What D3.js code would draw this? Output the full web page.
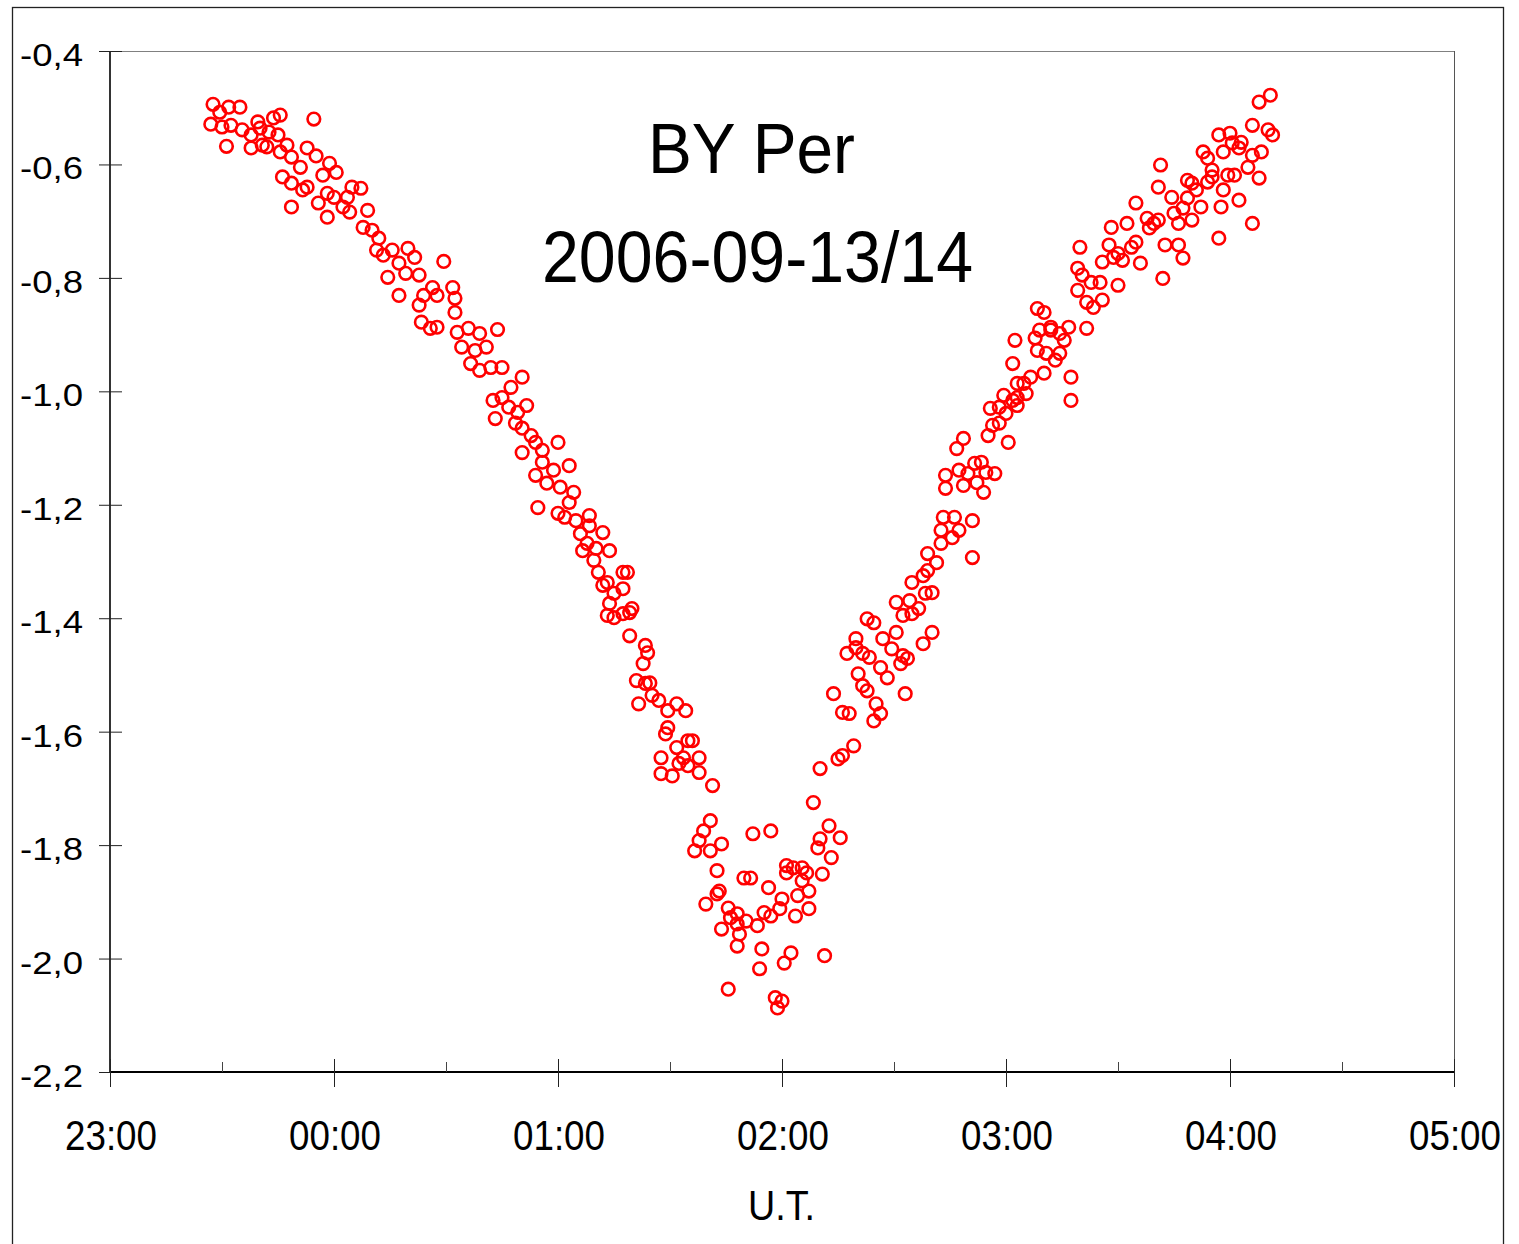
<!DOCTYPE html>
<html lang="en">
  <head>
    <meta charset="UTF-8" />
    <title>BY Per 2006-09-13/14</title>
    <script src="https://d3js.org/d3.v7.min.js"></script>
    <style>
      body {
        margin: 0;
        padding: 0;
        background: #fff;
      }
      svg {
        display: block;
        font-family: "Liberation Sans", Arial, sans-serif;
      }
    </style>
  </head>
  <body>
    <svg width="1519" height="1244"></svg>
    <script>
      // UT in hours (past midnight continues as 24, 25, ...), differential magnitude
      const descent = [
        [23.46,-0.494],[23.49,-0.508],[23.53,-0.499],[23.58,-0.499],[23.45,-0.529],[23.50,-0.534],[23.54,-0.531],[23.52,-0.568],[23.59,-0.539],[23.63,-0.548],
        [23.66,-0.525],[23.67,-0.536],[23.63,-0.571],[23.68,-0.566],[23.70,-0.569],[23.73,-0.518],[23.76,-0.513],[23.71,-0.543],[23.75,-0.548],[23.79,-0.566],
        [23.76,-0.578],[23.81,-0.587],[23.77,-0.622],[23.81,-0.633],[23.81,-0.675],[23.88,-0.571],[23.91,-0.520],[23.92,-0.585],[23.85,-0.605],[23.86,-0.645],
        [23.88,-0.640],[23.93,-0.668],[23.97,-0.693],[23.98,-0.598],[24.01,-0.614],[23.95,-0.619],[23.97,-0.651],[24.00,-0.658],[24.04,-0.675],[24.07,-0.684],
        [24.08,-0.640],[24.12,-0.642],[24.06,-0.658],[24.15,-0.681],[24.13,-0.711],[24.17,-0.716],[24.20,-0.730],[24.19,-0.751],[24.22,-0.760],
        [24.26,-0.751],[24.33,-0.748],[24.36,-0.764],[24.29,-0.774],[24.24,-0.799],[24.32,-0.792],[24.38,-0.795],[24.49,-0.771],[24.29,-0.831],[24.44,-0.817],
        [24.40,-0.831],[24.46,-0.831],[24.53,-0.817],[24.54,-0.836],[24.38,-0.848],[24.54,-0.861],[24.39,-0.878],[24.43,-0.889],[24.46,-0.887],[24.55,-0.896],
        [24.60,-0.889],[24.65,-0.898],[24.73,-0.891],[24.57,-0.922],[24.63,-0.928],[24.68,-0.922],[24.61,-0.951],[24.65,-0.963],[24.70,-0.958],[24.75,-0.958],
        [24.84,-0.975],[24.79,-0.993],[24.71,-1.016],[24.75,-1.011],[24.72,-1.048],[24.78,-1.028],[24.82,-1.037],[24.86,-1.025],[24.81,-1.056],[24.84,-1.065],
        [24.88,-1.078],[24.90,-1.090],[25.00,-1.090],[24.84,-1.108],[24.93,-1.104],[24.93,-1.125],[24.98,-1.139],[25.05,-1.131],[24.90,-1.148],[24.95,-1.162],
        [25.01,-1.169],[25.07,-1.178],[25.05,-1.196],[24.91,-1.205],[25.00,-1.215],[25.03,-1.222],[25.08,-1.228],[25.14,-1.219],[25.14,-1.237],[25.20,-1.249],
        [25.10,-1.251],[25.13,-1.268],[25.11,-1.281],[25.17,-1.277],[25.23,-1.281],[25.16,-1.298],[25.18,-1.319],[25.20,-1.342],[25.22,-1.337],[25.29,-1.319],
        [25.31,-1.319],[25.29,-1.348],[25.25,-1.356],[25.23,-1.374],[25.22,-1.395],[25.25,-1.399],[25.29,-1.392],[25.32,-1.390],[25.33,-1.383],[25.32,-1.431],
        [25.39,-1.448],[25.40,-1.461],[25.38,-1.480],[25.35,-1.510],[25.39,-1.515],[25.41,-1.514],[25.42,-1.536],[25.45,-1.545],[25.36,-1.551],[25.49,-1.563],
        [25.53,-1.551],[25.57,-1.563],[25.49,-1.593],[25.48,-1.604],[25.58,-1.616],[25.60,-1.616],[25.53,-1.628],[25.46,-1.646],[25.56,-1.646],[25.63,-1.646],
        [25.54,-1.656],[25.58,-1.660],[25.46,-1.674],[25.51,-1.678],[25.63,-1.672],[25.69,-1.695]
      ];

      const minimum = [
        [25.68,-1.757],[25.65,-1.775],[25.63,-1.792],[25.61,-1.810],[25.68,-1.810],[25.73,-1.798],[25.87,-1.780],[25.95,-1.775],[25.71,-1.845],[25.66,-1.904],
        [25.71,-1.886],[25.72,-1.881],[25.76,-1.911],[25.77,-1.928],[25.73,-1.948],[25.80,-1.921],[25.80,-1.939],[25.81,-1.957],[25.80,-1.978],[25.84,-1.934],
        [25.89,-1.942],[25.83,-1.858],[25.86,-1.858],[25.94,-1.875],[25.92,-1.919],[25.95,-1.925],[25.99,-1.912],[26.00,-1.895],[26.02,-1.836],[26.02,-1.849],
        [26.05,-1.840],[26.09,-1.840],[26.11,-1.849],[26.07,-1.889],[26.12,-1.881],[26.12,-1.912],[26.06,-1.925],[26.09,-1.863],[26.18,-1.851],[26.16,-1.805],
        [26.17,-1.789],[26.21,-1.766],[26.26,-1.787],[26.22,-1.822],[26.14,-1.725],[26.17,-1.665],[26.25,-1.648],[26.27,-1.642],[26.32,-1.625],
        [25.91,-1.983],[25.90,-2.018],[26.01,-2.008],[26.04,-1.990],[26.19,-1.995],[25.76,-2.054],[25.97,-2.069],[25.98,-2.087],[26.00,-2.075]
      ];

      const ascent = [
        [26.41,-1.581],[26.44,-1.568],[26.27,-1.566],[26.30,-1.568],[26.23,-1.533],[26.38,-1.528],[26.36,-1.519],[26.42,-1.551],[26.55,-1.533],[26.34,-1.498],
        [26.47,-1.505],[26.44,-1.487],[26.29,-1.462],[26.33,-1.452],[26.36,-1.462],[26.39,-1.469],[26.33,-1.436],[26.45,-1.436],[26.49,-1.454],[26.51,-1.425],
        [26.53,-1.480],[26.56,-1.471],[26.54,-1.466],[26.63,-1.445],[26.67,-1.425],[26.38,-1.401],[26.41,-1.408],[26.51,-1.372],[26.54,-1.395],[26.58,-1.392],
        [26.61,-1.383],[26.57,-1.369],[26.58,-1.337],[26.63,-1.325],[26.64,-1.356],[26.67,-1.355],[26.65,-1.316],[26.65,-1.286],[26.69,-1.302],[26.71,-1.268],
        [26.71,-1.245],[26.72,-1.222],[26.76,-1.258],[26.77,-1.222],[26.79,-1.245],[26.85,-1.293],[26.85,-1.228],[26.73,-1.171],[26.73,-1.148],[26.78,-1.101],
        [26.81,-1.083],[26.79,-1.139],[26.83,-1.145],[26.81,-1.166],[26.86,-1.127],[26.89,-1.125],[26.87,-1.161],[26.90,-1.178],[26.91,-1.143],[26.95,-1.145],
        [26.92,-1.078],[26.94,-1.060],[26.97,-1.056],[27.00,-1.039],[27.01,-1.090],[26.93,-1.030],[26.97,-1.028],[27.05,-1.025],[26.99,-1.007],[27.03,-1.016],
        [27.05,-0.986],[27.08,-0.986],[27.11,-0.975],[27.05,-1.011],[27.09,-1.004],[27.03,-0.951],[27.04,-0.910],[27.14,-0.928],[27.13,-0.906],[27.18,-0.933],
        [27.17,-0.968],[27.24,-0.933],[27.22,-0.945],[27.15,-0.892],[27.20,-0.892],[27.24,-0.898],[27.14,-0.854],[27.17,-0.861],[27.20,-0.887],[27.28,-0.887],
        [27.26,-0.910],[27.29,-0.975],[27.29,-1.016],[27.36,-0.889],
        [27.33,-0.746],[27.32,-0.783],[27.34,-0.795],[27.32,-0.822],[27.38,-0.808],[27.36,-0.843],[27.39,-0.852],[27.43,-0.839],[27.42,-0.808],[27.50,-0.813],
        [27.70,-0.801],[27.43,-0.772],[27.46,-0.742],[27.48,-0.764],[27.50,-0.757],[27.52,-0.769],[27.47,-0.711],[27.54,-0.704],[27.56,-0.746],[27.60,-0.774],
        [27.58,-0.737],[27.58,-0.668],[27.63,-0.695],[27.64,-0.712],[27.66,-0.704],[27.68,-0.698],[27.71,-0.742],[27.68,-0.640],[27.69,-0.601],[27.74,-0.658],
        [27.75,-0.686],[27.77,-0.704],[27.79,-0.677],[27.77,-0.742],[27.79,-0.765],[27.83,-0.698],[27.81,-0.628],[27.83,-0.633],[27.87,-0.675],[27.81,-0.659],
        [27.85,-0.645],[27.88,-0.578],[27.90,-0.589],[27.90,-0.631],[27.92,-0.610],[27.92,-0.622],[27.95,-0.730],[27.96,-0.675],[27.97,-0.645],[27.95,-0.548],
        [27.97,-0.578],[28.00,-0.545],[28.01,-0.562],[27.99,-0.619],[28.02,-0.619],[28.04,-0.663],[28.04,-0.571],[28.05,-0.561],[28.08,-0.605],[28.10,-0.531],
        [28.10,-0.584],[28.14,-0.578],[28.13,-0.624],[28.10,-0.704],[28.17,-0.539],[28.19,-0.548],[28.13,-0.490],[28.18,-0.478]
      ];

      const yTicks = [-0.4, -0.6, -0.8, -1.0, -1.2, -1.4, -1.6, -1.8, -2.0, -2.2];
      const yTickLabels = ["-0,4", "-0,6", "-0,8", "-1,0", "-1,2", "-1,4", "-1,6", "-1,8", "-2,0", "-2,2"];
      const xTicks = [23, 24, 25, 26, 27, 28, 29];
      const xTickLabels = ["23:00", "00:00", "01:00", "02:00", "03:00", "04:00", "05:00"];
      const xMinorTicks = [23.5, 24.5, 25.5, 26.5, 27.5, 28.5];

      const svg = d3.select("svg");
      const plotLeft = 110,
        plotRight = 1454,
        plotTop = 51,
        plotBottom = 1072;

      const x = d3.scaleLinear().domain([23, 29]).range([plotLeft, plotRight]);
      const y = d3.scaleLinear().domain([-2.2, -0.4]).range([plotBottom, plotTop]);

      svg.append("rect").attr("width", 1519).attr("height", 1244).attr("fill", "#fff");

      // outer chart frame
      svg
        .append("rect")
        .attr("x", 12.5)
        .attr("y", 7.5)
        .attr("width", 1491)
        .attr("height", 1300)
        .attr("fill", "none")
        .attr("stroke", "#222")
        .attr("stroke-width", 1.3);

      // plot area border (top and right)
      svg
        .append("line")
        .attr("x1", plotLeft)
        .attr("x2", plotRight)
        .attr("y1", plotTop + 0.5)
        .attr("y2", plotTop + 0.5)
        .attr("stroke", "#808080");
      svg
        .append("line")
        .attr("x1", plotRight + 0.5)
        .attr("x2", plotRight + 0.5)
        .attr("y1", plotTop)
        .attr("y2", plotBottom)
        .attr("stroke", "#555");

      // y axis
      svg
        .append("line")
        .attr("x1", plotLeft)
        .attr("x2", plotLeft)
        .attr("y1", plotTop)
        .attr("y2", plotBottom)
        .attr("stroke", "#000")
        .attr("stroke-width", 1.6);
      yTicks.forEach((v, i) => {
        svg
          .append("line")
          .attr("x1", plotLeft - 11)
          .attr("x2", plotLeft + 12)
          .attr("y1", y(v) + 0.5)
          .attr("y2", y(v) + 0.5)
          .attr("stroke", "#222");
        svg
          .append("text")
          .attr("x", 20)
          .attr("y", y(v) + 15)
          .attr("font-size", 32)
          .attr("textLength", 63)
          .attr("lengthAdjust", "spacingAndGlyphs")
          .text(yTickLabels[i]);
      });

      // x axis
      svg
        .append("line")
        .attr("x1", plotLeft)
        .attr("x2", plotRight)
        .attr("y1", plotBottom)
        .attr("y2", plotBottom)
        .attr("stroke", "#000")
        .attr("stroke-width", 2);
      xMinorTicks.forEach((v) => {
        svg
          .append("line")
          .attr("x1", x(v) + 0.5)
          .attr("x2", x(v) + 0.5)
          .attr("y1", plotBottom - 10)
          .attr("y2", plotBottom)
          .attr("stroke", "#444");
      });
      xTicks.forEach((v, i) => {
        svg
          .append("line")
          .attr("x1", x(v) + 0.5)
          .attr("x2", x(v) + 0.5)
          .attr("y1", plotBottom - 13)
          .attr("y2", plotBottom + 15)
          .attr("stroke", "#222");
        svg
          .append("text")
          .attr("x", x(v) - 45)
          .attr("y", 1150)
          .attr("font-size", 42)
          .attr("textLength", 92)
          .attr("lengthAdjust", "spacingAndGlyphs")
          .text(xTickLabels[i]);
      });

      svg
        .append("text")
        .attr("x", 748)
        .attr("y", 1220)
        .attr("font-size", 42)
        .attr("textLength", 67)
        .attr("lengthAdjust", "spacingAndGlyphs")
        .text("U.T.");

      // title
      svg
        .append("text")
        .attr("x", 648)
        .attr("y", 173)
        .attr("font-size", 71)
        .attr("textLength", 207)
        .attr("lengthAdjust", "spacingAndGlyphs")
        .text("BY Per");
      svg
        .append("text")
        .attr("x", 542)
        .attr("y", 282)
        .attr("font-size", 72)
        .attr("textLength", 431)
        .attr("lengthAdjust", "spacingAndGlyphs")
        .text("2006-09-13/14");

      // observations
      const allPoints = descent.concat(minimum, ascent);
      svg
        .append("g")
        .selectAll("circle")
        .data(allPoints)
        .join("circle")
        .attr("cx", (d) => x(d[0]))
        .attr("cy", (d) => y(d[1]))
        .attr("r", 6.3)
        .attr("fill", "none")
        .attr("stroke", "#ff0000")
        .attr("stroke-width", 2.6);
    </script>
  </body>
</html>
